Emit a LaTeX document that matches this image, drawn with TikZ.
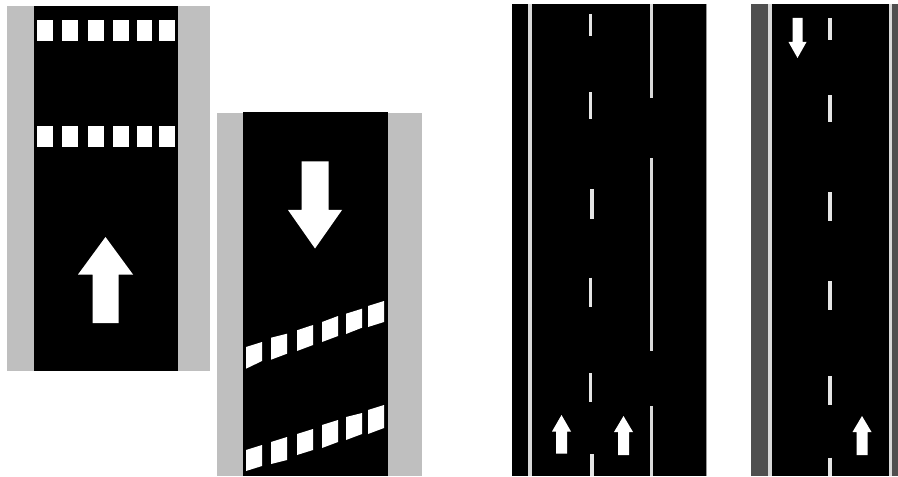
\documentclass[tikz,border=0pt]{standalone}
\usepackage[rgb,table]{xcolor}
\usetikzlibrary{positioning}
\definecolor{shoulder}{rgb}{0.75, 0.75, 0.75}
\definecolor{darkshoulder}{rgb}{0.31, 0.31, 0.31}
\definecolor{edgegray}{rgb}{0.6, 0.6, 0.6}
\tikzset{asphalt/.style={fill=black}}
\tikzset{verge/.style={fill=shoulder}}
\tikzset{paint/.style={fill=white}}
\tikzset{laneline/.style={draw=white!85!black, line width=2.4pt}}
\tikzset{dashline/.style={draw=white!90!black, line width=2.6pt}}
\begin{document}
\begin{tikzpicture}[x=0.75pt, y=-0.75pt]
                \useasboundingbox (0, 0) rectangle (898, 477);%
                % road with straight crossing
                \fill [verge] (6.5, 6.5) rectangle (209.5, 370.5);%
                \fill [asphalt] (33.5, 6) rectangle (178, 371);%
                \foreach \xa/\xb in {37/53, 62/78, 88/104, 113/129, 137/152, 159/175} {
                  \fill [paint] (\xa, 20) rectangle (\xb, 41);%
                  \fill [paint] (\xa, 126) rectangle (\xb, 147);%
                }
                % road with skewed crossing
                \fill [verge] (216.5, 113) rectangle (421.5, 476);%
                \fill [asphalt] (243, 112) rectangle (388, 476);%
                \foreach \xa/\xb/\lt/\lb/\rt/\rb in {
                  246/262/347/368.7/342/361,
                  271/287/337.7/359.7/333.7/353.7,
                  297/313/330.3/351/325/345,
                  322/338/322/342/316/336,
                  346/362/313.7/334/308.7/327.7,
                  368/384/306/327/301/322,
                  246/262/450/471/445/466,
                  271/287/442/464/437/460,
                  297/313/434/455/429/450,
                  322/338/425/448/420/442,
                  346/362/417/440/413/434,
                  368/384/410/434/405/428} {
                  \fill [paint] (\xa, \lt) -- (\xb, \rt) -- (\xb, \rb) -- (\xa, \lb) -- cycle;%
                }
                % two lanes with a broken outer line
                \fill [asphalt] (512, 4) rectangle (707, 476);%
                \draw [edgegray, line width=1pt] (706.8, 4) -- (706.8, 476);%
                \draw [laneline] (530, 4) -- (530, 476);%
                \foreach \ya/\yb in {4/98.5, 158.5/351, 406/476} {
                  \draw [laneline] (651.5, \ya) -- (651.5, \yb);%
                }
                \foreach \xm/\ya/\yb in {590.7/14/36.5, 590.7/92.5/119, 592/189/218.5,
                  590.7/277.7/307, 590.7/373/401.5, 592/454/476} {
                  \draw [dashline] (\xm, \ya) -- (\xm, \yb);%
                }
                % road with dark shoulder
                \fill [darkshoulder] (751, 4) rectangle (898, 476);%
                \fill [asphalt] (771, 4) rectangle (889, 476);%
                \draw [laneline] (770, 4) -- (770, 476);%
                \draw [laneline] (890.7, 4) -- (890.7, 476);%
                \foreach \ya/\yb in {18/40, 95.5/122.5, 192.5/221, 281/310, 376/405, 457.7/476} {
                  \draw [dashline] (830, \ya) -- (830, \yb);%
                }
                % direction arrows
                \foreach \xm/\tip/\hd/\tail/\hw/\sw in {
                  105.5/237/274.5/323/27.5/13,
                  315/248.5/210/161.5/27/13.5,
                  561.5/415/431.5/453.7/9.5/5.5,
                  623.5/416/432/455/9.5/5.5,
                  797.5/58/42/18/9/5,
                  862/416/432/455/9.5/5.5} {
                  \fill [paint] (\xm, \tip) -- ({\xm+\hw}, \hd) -- ({\xm+\sw}, \hd) -- ({\xm+\sw}, \tail) -- ({\xm-\sw}, \tail) -- ({\xm-\sw}, \hd) -- ({\xm-\hw}, \hd) -- cycle;%
                }
              \end{tikzpicture}
\end{document}
